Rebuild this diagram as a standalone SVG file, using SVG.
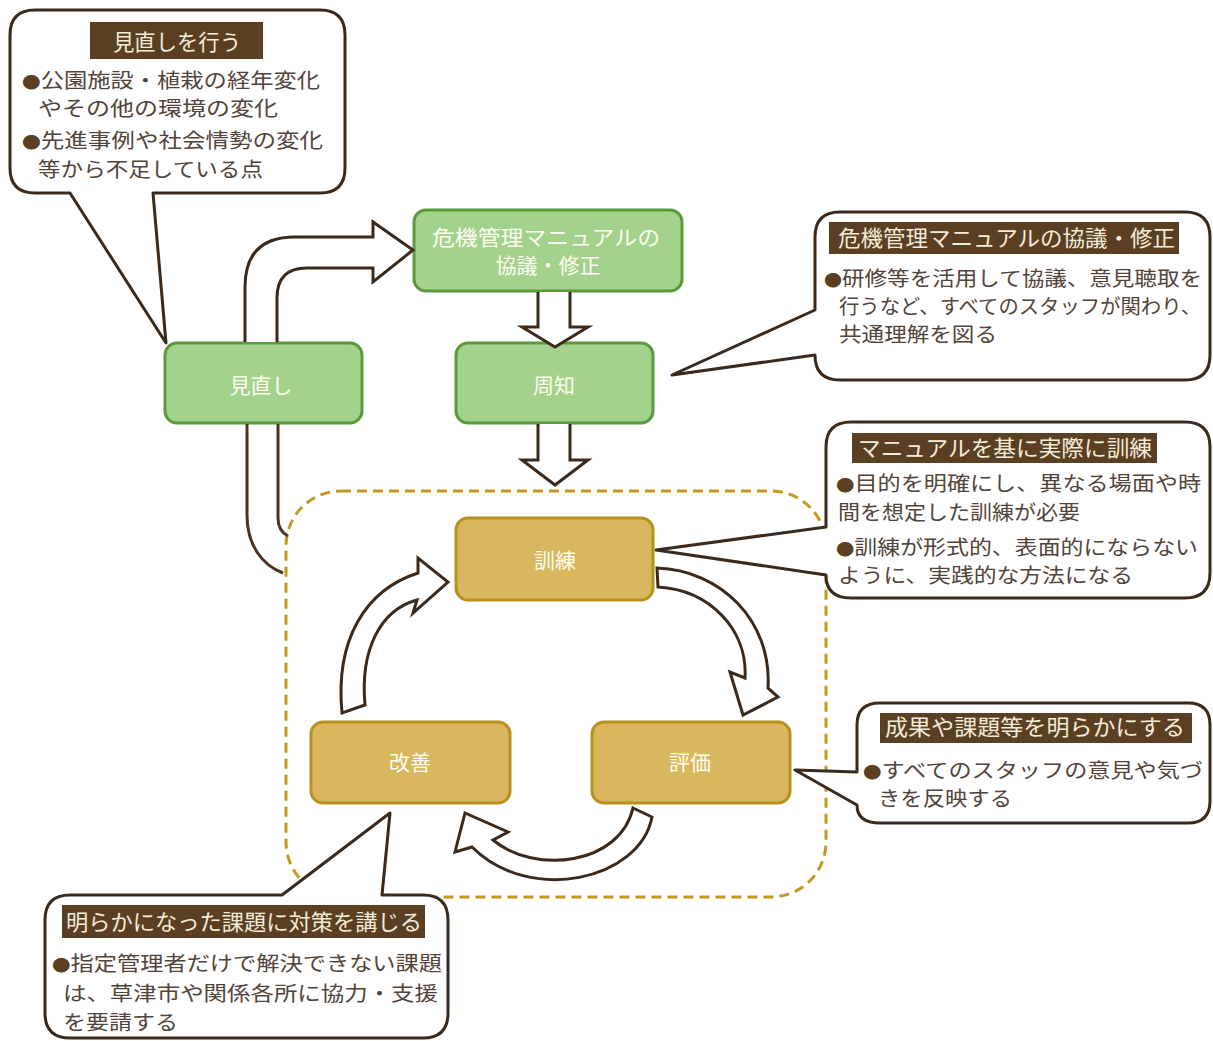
<svg xmlns="http://www.w3.org/2000/svg" width="1213" height="1041" viewBox="0 0 1213 1041">
<style>
  .callout { fill: #ffffff; stroke: #3b2a1c; stroke-width: 3; stroke-linejoin: round; }
  .bar { fill: #5b3f23; }
  .bartext { font-family: "Noto Sans CJK JP", "Noto Sans", sans-serif; font-size: 22px; fill: #f4ecda; }
  .body { font-family: "Noto Sans CJK JP", "Noto Sans", sans-serif; font-size: 20px; fill: #52443a; }
  .bul { font-size: 16px; fill: #5b3f23; }
  .green { fill: #a2d28c; stroke: #5a9a3b; stroke-width: 3; }
  .gold { fill: #d9b75f; stroke: #b8901c; stroke-width: 3; }
  .ntext { font-family: "Noto Sans CJK JP", "Noto Sans", sans-serif; font-size: 21px; fill: #fffdf0; text-anchor: middle; }
  .barrow { fill: #ffffff; stroke: #3b2a1c; stroke-width: 3; stroke-linejoin: miter; }
  .line { fill: none; stroke: #4a3422; stroke-width: 3; }
  .dash { fill: none; stroke: #c49a1e; stroke-width: 3; stroke-dasharray: 10 6; }
</style>

<rect x="286" y="491" width="540" height="406" rx="55" class="dash"/>

<g id="callout-review">
  <path class="callout" d="M35,10 H320 Q345,10 345,35 V168 Q345,193 320,193 H153 L166,343 L70,193 H35 Q10,193 10,168 V35 Q10,10 35,10 Z"/>
  <rect class="bar" x="90" y="22" width="173" height="37"/>
  <text class="bartext" x="113" y="50" textLength="128" lengthAdjust="spacingAndGlyphs">見直しを行う</text>
  <text class="body" x="22" y="88" textLength="298" lengthAdjust="spacingAndGlyphs"><tspan class="bul">●</tspan>公園施設・植栽の経年変化</text>
  <text class="body" x="38" y="116" textLength="240" lengthAdjust="spacingAndGlyphs">やその他の環境の変化</text>
  <text class="body" x="22" y="148" textLength="301" lengthAdjust="spacingAndGlyphs"><tspan class="bul">●</tspan>先進事例や社会情勢の変化</text>
  <text class="body" x="38" y="177" textLength="225" lengthAdjust="spacingAndGlyphs">等から不足している点</text>
</g>

<g id="callout-manual">
  <path class="callout" d="M840,212 H1185 Q1210,212 1210,237 V355 Q1210,380 1185,380 H840 Q815,380 815,355 L672,375 L815,310 V237 Q815,212 840,212 Z"/>
  <rect class="bar" x="829" y="222" width="350" height="32"/>
  <text class="bartext" x="838" y="246" textLength="337" lengthAdjust="spacingAndGlyphs">危機管理マニュアルの協議・修正</text>
  <text class="body" x="824" y="286" textLength="378" lengthAdjust="spacingAndGlyphs"><tspan class="bul">●</tspan>研修等を活用して協議、意見聴取を</text>
  <text class="body" x="839" y="314" textLength="362" lengthAdjust="spacingAndGlyphs">行うなど、すべてのスタッフが関わり、</text>
  <text class="body" x="839" y="342" textLength="158" lengthAdjust="spacingAndGlyphs">共通理解を図る</text>
</g>

<g id="callout-training">
  <path class="callout" d="M851,422 H1185 Q1210,422 1210,447 V573 Q1210,598 1185,598 H851 Q826,598 826,575 L656,550 L826,527 V447 Q826,422 851,422 Z"/>
  <rect class="bar" x="852" y="433" width="305" height="30"/>
  <text class="bartext" x="858" y="456" textLength="294" lengthAdjust="spacingAndGlyphs">マニュアルを基に実際に訓練</text>
  <text class="body" x="836" y="491" textLength="365" lengthAdjust="spacingAndGlyphs"><tspan class="bul">●</tspan>目的を明確にし、異なる場面や時</text>
  <text class="body" x="838" y="520" textLength="242" lengthAdjust="spacingAndGlyphs">間を想定した訓練が必要</text>
  <text class="body" x="836" y="555" textLength="362" lengthAdjust="spacingAndGlyphs"><tspan class="bul">●</tspan>訓練が形式的、表面的にならない</text>
  <text class="body" x="838" y="583" textLength="295" lengthAdjust="spacingAndGlyphs">ように、実践的な方法になる</text>
</g>

<g id="callout-evaluation">
  <path class="callout" d="M880,703 H1188 Q1210,703 1210,725 V801 Q1210,823 1188,823 H880 Q857,823 857,805 L795,770 L857,772 V725 Q857,703 880,703 Z"/>
  <rect class="bar" x="880" y="713" width="312" height="30"/>
  <text class="bartext" x="885" y="735" textLength="300" lengthAdjust="spacingAndGlyphs">成果や課題等を明らかにする</text>
  <text class="body" x="863" y="778" textLength="340" lengthAdjust="spacingAndGlyphs"><tspan class="bul">●</tspan>すべてのスタッフの意見や気づ</text>
  <text class="body" x="878" y="806" textLength="134" lengthAdjust="spacingAndGlyphs">きを反映する</text>
</g>

<g id="callout-improve">
  <path class="callout" d="M70,895 H282 L390,813 L382,895 H423 Q448,895 448,920 V1013 Q448,1038 423,1038 H70 Q45,1038 45,1013 V920 Q45,895 70,895 Z"/>
  <rect class="bar" x="62" y="905" width="363" height="33"/>
  <text class="bartext" x="66" y="930" textLength="356" lengthAdjust="spacingAndGlyphs">明らかになった課題に対策を講じる</text>
  <text class="body" x="52" y="971" textLength="390" lengthAdjust="spacingAndGlyphs"><tspan class="bul">●</tspan>指定管理者だけで解決できない課題</text>
  <text class="body" x="63" y="1001" textLength="375" lengthAdjust="spacingAndGlyphs">は、草津市や関係各所に協力・支援</text>
  <text class="body" x="63" y="1030" textLength="115" lengthAdjust="spacingAndGlyphs">を要請する</text>
</g>

<g id="node-manual">
  <rect class="green" x="414" y="210" width="268" height="81" rx="12"/>
  <text class="ntext" x="546" y="245" textLength="228" lengthAdjust="spacingAndGlyphs">危機管理マニュアルの</text>
  <text class="ntext" x="548" y="273">協議・修正</text>
</g>
<g id="node-review">
  <rect class="green" x="165" y="343" width="197" height="80" rx="12"/>
  <text class="ntext" x="261" y="393">見直し</text>
</g>
<g id="node-notice">
  <rect class="green" x="456" y="343" width="197" height="80" rx="12"/>
  <text class="ntext" x="554" y="393">周知</text>
</g>
<g id="node-training">
  <rect class="gold" x="456" y="518" width="197" height="82" rx="12"/>
  <text class="ntext" x="555" y="568">訓練</text>
</g>
<g id="node-improve">
  <rect class="gold" x="311" y="722" width="199" height="81" rx="12"/>
  <text class="ntext" x="410" y="770">改善</text>
</g>
<g id="node-evaluate">
  <rect class="gold" x="592" y="722" width="198" height="81" rx="12"/>
  <text class="ntext" x="690" y="770">評価</text>
</g>

<g id="connectors">
  <path class="barrow" d="M538,292 V327 H522 L555,347 L588,327 H570 V292"/>
  <path class="barrow" d="M538,424 V460 H522 L555,485 L588,460 H570 V424"/>
  <path class="barrow" d="M245,342 V287 Q245,237 295,237 H373 V222 L413,250 L373,282 V268 H307 Q277,268 277,298 V342"/>
  <path class="line" d="M247,424 V515 C247,545 262,565 283,573"/>
  <path class="line" d="M278,424 V518 C278,528 282,533 288,536"/>
  <path class="barrow" d="M657,568 C720,570 772,620 768,688 L778,697 L743,715 L730,672 L745,678 C748,630 710,590 658,587 Z"/>
  <path class="barrow" d="M633,808 L652,817 C640,880 530,905 472,847 L455,852 L465,813 L508,832 L493,840 C535,875 620,865 633,808 Z"/>
  <path class="barrow" d="M342,713 C335,640 365,590 418,573 L418,558 L448,582 L413,613 L417,600 C380,610 360,650 365,705 Z"/>
</g>
</svg>
